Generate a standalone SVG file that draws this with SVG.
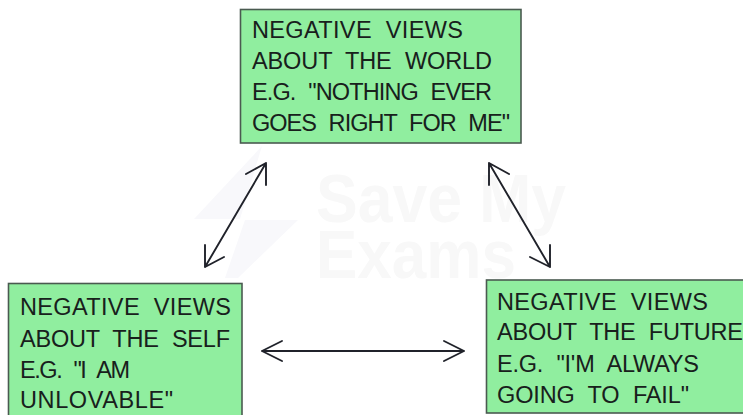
<svg xmlns="http://www.w3.org/2000/svg" width="743" height="415" viewBox="0 0 743 415">
<style>
.box{fill:#90ee9f;stroke:#4a5a50;stroke-width:1.6}
.t{font-family:"Liberation Sans",Arial,sans-serif;font-size:23.500px;fill:#18201c;word-spacing:7px}
.wm{font-family:"Liberation Sans",Arial,sans-serif;font-size:69px;font-weight:700;fill:#f8f8f8}
.logo{fill:#f8f8fb}
.c{fill:none;stroke:#20222a;stroke-width:1.9;stroke-linecap:round;stroke-linejoin:round}
</style>
<rect width="743" height="415" fill="#fff"/>
<g id="watermark">
<polygon class="logo" points="262,146 194,219 240,219"/>
<polygon class="logo" points="245,220 298,220 238,278 225,278"/>
<text class="wm" x="316" y="222" textLength="250" lengthAdjust="spacingAndGlyphs">Save My</text>
<text class="wm" x="316" y="278" textLength="200" lengthAdjust="spacingAndGlyphs">Exams</text>
</g>
<g id="connectors">
<path class="c" d="M266,163L205,267M246,174L266,163L266,185M205,245L205,267L224,257"/>
<path class="c" d="M489,163L550,267M509,174L489,163L489,185M530,257L550,267L550,245"/>
<path class="c" d="M262,351H464M282,341L262,351L282,361M444,341L464,351L444,361"/>
</g>
<g id="node-world">
<rect class="box" x="240.500" y="9.500" width="280.500" height="133.500"/>
<text class="t" x="252" y="38" textLength="211">NEGATIVE VIEWS</text>
<text class="t" x="252" y="69" textLength="240">ABOUT THE WORLD</text>
<text class="t" x="252" y="100" textLength="240">E.G. "NOTHING EVER</text>
<text class="t" x="252" y="131" textLength="258">GOES RIGHT FOR ME"</text>
</g>
<g id="node-self">
<rect class="box" x="8.500" y="283.500" width="233.500" height="140"/>
<text class="t" x="20" y="315" textLength="211">NEGATIVE VIEWS</text>
<text class="t" x="20" y="347" textLength="210">ABOUT THE SELF</text>
<text class="t" x="20" y="378" textLength="110">E.G. "I AM</text>
<text class="t" x="20" y="408" textLength="153">UNLOVABLE"</text>
</g>
<g id="node-future">
<rect class="box" x="486.500" y="280" width="270" height="133"/>
<text class="t" x="497" y="310" textLength="211">NEGATIVE VIEWS</text>
<text class="t" x="497" y="340" textLength="246">ABOUT THE FUTURE</text>
<text class="t" x="497" y="372" textLength="202">E.G. "I'M ALWAYS</text>
<text class="t" x="497" y="403" textLength="192">GOING TO FAIL"</text>
</g>
</svg>
